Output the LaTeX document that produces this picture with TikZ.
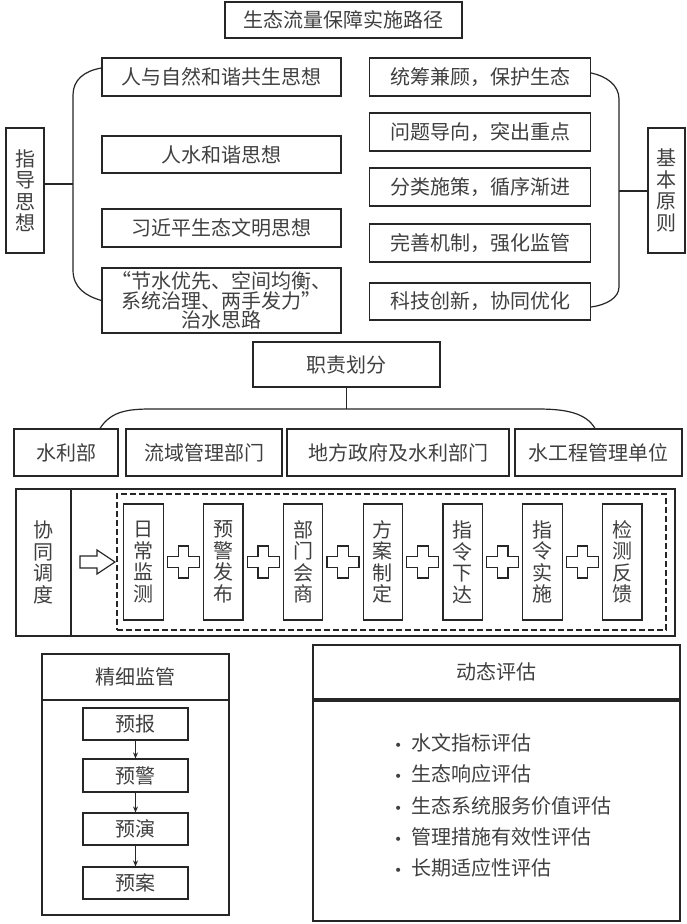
\documentclass[tikz,border=0pt]{standalone}
\usepackage{fontspec}
\setmainfont{Noto Sans CJK SC}
\newfontfamily\dejavu{DejaVu Sans}
\usetikzlibrary{arrows.meta,calc}
\begin{document}
\begin{tikzpicture}[x=1pt,y=-1pt,
  line/.style={draw=black!85, line width=1.2pt},
  box/.style={line, inner sep=0pt, text=black!75, align=center,
    font=\fontsize{20}{19.5}\selectfont},
  vbox/.style={box, font=\fontsize{20}{21.5}\selectfont},
  wh/.style 2 args={minimum width=#1pt, minimum height=#2pt},
  plus/.style={line, fill=white},
  item/.style={anchor=west, inner sep=0pt, text=black!75, font=\fontsize{20}{20}\selectfont},
  tip/.style={-{Stealth[length=6pt,width=5pt]}, line}
]
\fill[white] (0,0) rectangle (687,924);
\useasboundingbox (0,0) rectangle (687,924);

% title
\node[box, wh={237}{36}] (title) at (343.5,20) {生态流量保障实施路径};

% guiding thoughts
\node[vbox, wh={38}{125}] (gl) at (25,190.5) {指\\导\\思\\想};
\node[box, wh={239}{38}] (b1) at (221.5,77) {人与自然和谐共生思想};
\node[box, wh={239}{37}] (b2) at (221.5,154.5) {人水和谐思想};
\node[box, wh={239}{38}] (b3) at (221.5,228) {习近平生态文明思想};
\node[box, wh={239}{65}] (b4) at (221.5,300.5) {“节水优先、空间均衡、\\系统治理、两手发力”\\治水思路};
\coordinate (ls) at (73,184);
\draw[line] ([yshift=9pt]b1.west) .. controls (84,71) and (73,80) .. (73,95) -- (73,270)
  .. controls (73,288) and (86,296) .. (b4.west);
\draw[line] ([yshift=6.5pt]gl.east) -- (ls);

% basic principles
\node[vbox, wh={37}{125}] (gr) at (666.5,190.5) {基\\本\\原\\则};
\node[box, wh={221}{38}] (r1) at (480,77) {统筹兼顾，保护生态};
\node[box, wh={221}{38}] (r2) at (480,132) {问题导向，突出重点};
\node[box, wh={221}{38}] (r3) at (480,187) {分类施策，循序渐进};
\node[box, wh={221}{38}] (r4) at (480,243) {完善机制，强化监管};
\node[box, wh={221}{37}] (r5) at (480,301.5) {科技创新，协同优化};
\coordinate (rs) at (619,191);
\draw[line] ([yshift=4pt]r1.east) .. controls (606,76) and (619,85) .. (619,99) -- (619,287)
  .. controls (619,298) and (606,305) .. ([yshift=-5.5pt]r5.east);
\draw[line] (rs) -- (gr.west |- rs);

% duties
\node[box, wh={187}{45}] (duty) at (346.5,364.5) {职责划分};
\node[box, wh={104}{47}] (d1) at (66,452.5) {水利部};
\node[box, wh={156}{47}] (d2) at (204,452.5) {流域管理部门};
\node[box, wh={222}{47}] (d3) at (398,452.5) {地方政府及水利部门};
\node[box, wh={167}{47}] (d4) at (598.5,452.5) {水工程管理单位};
\coordinate (dj) at (346.5,409);
\draw[line] (duty.south) -- (dj);
\draw[line] ([xshift=34pt]d1.north) .. controls (110,413) and (124,409) .. (150,409) -- (538,409)
  .. controls (566,409) and (586,413) .. ([xshift=-3.5pt]d4.north);

% coordination
\node[vbox, wh={55}{147}] (cl) at (43.5,562.5) {协\\同\\调\\度};
\node[line, inner sep=0pt, wh={604}{147}] (cb) at (373,562.5) {};
\node[line, dashed, dash pattern=on 6pt off 3pt, inner sep=0pt, wh={549}{136}] (cd) at (391.5,562) {};
\draw[line, fill=white] (80,556) -- (97,556) -- (97,550) -- (115,562) -- (97,574) -- (97,568) -- (80,568) -- cycle;
\foreach \n/\t [count=\i from 0] in {s1/日\\常\\监\\测, s2/预\\警\\发\\布, s3/部\\门\\会\\商, s4/方\\案\\制\\定, s5/指\\令\\下\\达, s6/指\\令\\实\\施, s7/检\\测\\反\\馈}{
  \node[vbox, wh={39.5}{116}] (\n) at ({143.5+79.8*\i},562) {\t};
}
\foreach \i in {0,...,5}{
  \pgfmathsetmacro{\cx}{183.4+79.8*\i}
  \draw[plus] (\cx-5.3,546) -- (\cx+5.3,546) -- (\cx+5.3,556.7) -- (\cx+16,556.7) -- (\cx+16,567.3)
    -- (\cx+5.3,567.3) -- (\cx+5.3,578) -- (\cx-5.3,578) -- (\cx-5.3,567.3) -- (\cx-16,567.3)
    -- (\cx-16,556.7) -- (\cx-5.3,556.7) -- cycle;
}

% fine supervision
\node[line, inner sep=0pt, wh={187}{261}] (fc) at (135.5,784.5) {};
\node[box, wh={187}{46}] (fh) at (135.5,677) {精细监管};
\node[box, wh={105}{32}] (p1) at (135.5,724) {预报};
\node[box, wh={105}{33}] (p2) at (135.5,775.5) {预警};
\node[box, wh={105}{32}] (p3) at (135.5,829) {预演};
\node[box, wh={105}{32}] (p4) at (135.5,883) {预案};
\draw[tip] (p1) -- (p2);
\draw[tip] (p2) -- (p3);
\draw[tip] (p3) -- (p4);

% dynamic assessment
\node[box, wh={367}{54}] (eh) at (496.5,672) {动态评估};
\node[line, inner sep=0pt, wh={367}{220}] (eb) at (496.5,811) {};
\newcommand{\bul}{\makebox[13pt]{\dejavu\fontsize{14}{14}\selectfont •}\hspace{6.5pt}}
\node[item] (e1) at (391.5,743) {\bul 水文指标评估};
\node[item] (e2) at (391.5,774) {\bul 生态响应评估};
\node[item] (e3) at (391.5,805.5) {\bul 生态系统服务价值评估};
\node[item] (e4) at (391.5,837) {\bul 管理措施有效性评估};
\node[item] (e5) at (391.5,868) {\bul 长期适应性评估};
\end{tikzpicture}
\end{document}
